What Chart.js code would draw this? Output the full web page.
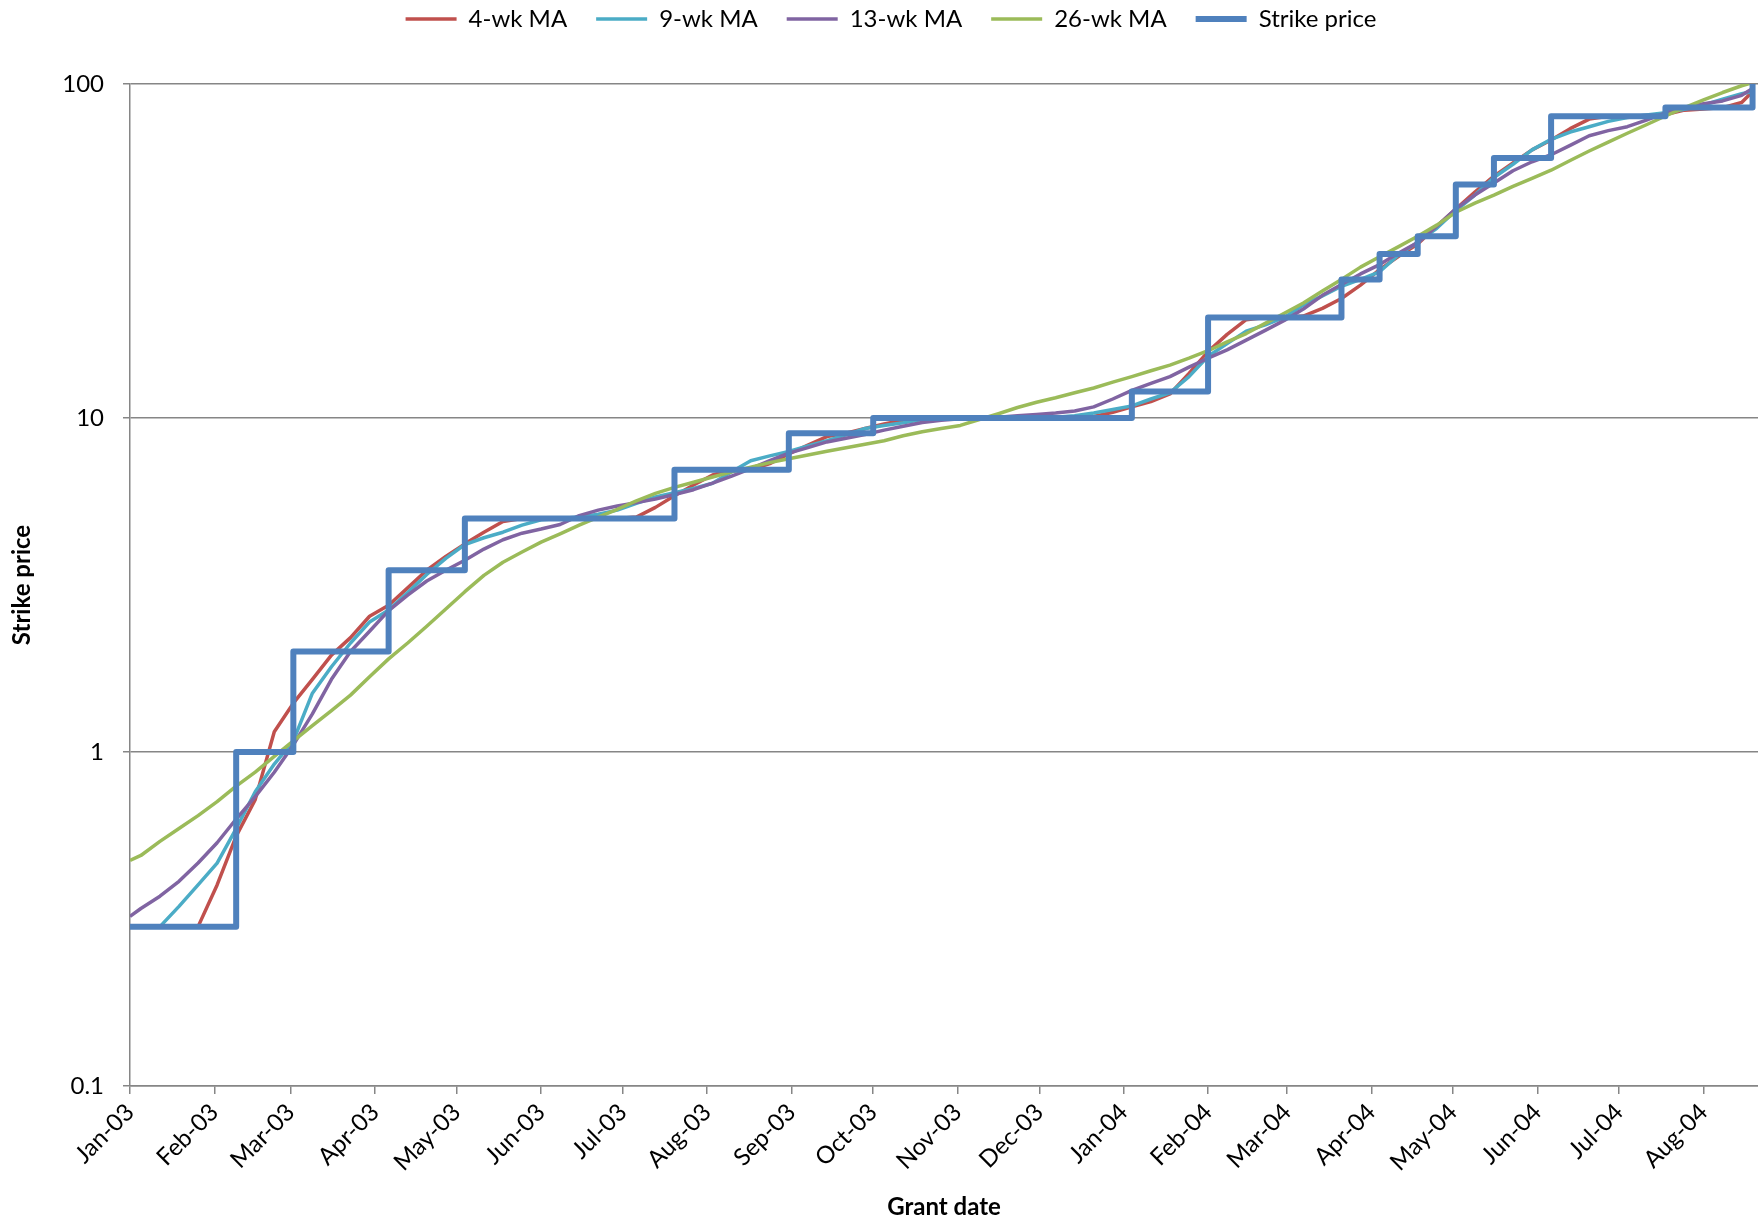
<!DOCTYPE html>
<html>
<head>
<meta charset="utf-8">
<title>Strike price and moving averages</title>
<script src="https://cdn.jsdelivr.net/npm/chart.js@4.4.1/dist/chart.umd.min.js"></script>
<style>
  html, body { margin: 0; padding: 0; background: #fff; }
  #wrap { width: 1758px; height: 1222px; }
</style>
</head>
<body>
<div id="wrap"><canvas id="chart" width="1758" height="1222"></canvas></div>
<script>
// Sample dates: start of period, every Sunday from 5 Jan 2003, last grant
var weeks = ['2003-01-01'];
for (var t = Date.UTC(2003, 0, 5); t <= Date.UTC(2004, 7, 15); t += 7 * 864e5) {
  weeks.push(new Date(t).toISOString().slice(0, 10));
}
weeks.push('2004-08-19');

var ma4 = [
  0.3, 0.3, 0.3, 0.3, 0.3, 0.4, 0.56, 0.72, 1.15, 1.4,
  1.65, 1.95, 2.2, 2.55, 2.75, 3.1, 3.5, 3.85, 4.2, 4.55,
  4.9, 5.0, 5.0, 5.0, 5.0, 5.0, 5.0, 5.05, 5.4, 5.85,
  6.3, 6.75, 7.0, 7.0, 7.3, 7.8, 8.3, 8.8, 9.0, 9.3,
  9.6, 9.85, 10, 10, 10, 10, 10, 10, 10, 10,
  10, 10.1, 10.4, 10.8, 11.2, 11.8, 13.6, 15.8, 17.8, 19.7,
  20, 20, 20.2, 21.3, 22.8, 25, 27.8, 30.5, 33.2, 37.5,
  42.2, 47.5, 53, 58, 63.5, 68, 73.5, 78.5, 80, 80,
  80, 81, 83.5, 84.2, 85, 88, 95
];
var ma9 = [
  0.3, 0.3, 0.3, 0.345, 0.4, 0.465, 0.59, 0.76, 0.92, 1.08,
  1.5, 1.8, 2.12, 2.45, 2.66, 3.0, 3.4, 3.8, 4.18, 4.38,
  4.55, 4.78, 4.96, 5.0, 5.05, 5.15, 5.3, 5.55, 5.8, 5.98,
  6.15, 6.38, 6.9, 7.45, 7.7, 7.94, 8.25, 8.55, 8.9, 9.3,
  9.5, 9.68, 9.9, 10, 10, 10, 10, 10, 10, 10.05,
  10.15, 10.35, 10.6, 10.87, 11.4, 11.9, 13.3, 15.3, 16.7, 18.2,
  19.0, 20.0, 21.8, 23.2, 24.8, 26.0, 27.4, 30.8, 33.6, 37,
  41.8, 46.5, 52.5, 57.5, 63.5, 68.3, 71.8, 74.5, 77.3, 79.4,
  80.8, 82, 84, 86.5, 90, 93.5, 95
];
var ma13 = [
  0.322, 0.34, 0.37, 0.41, 0.465, 0.535, 0.63, 0.735, 0.87, 1.05,
  1.3, 1.65, 2.0, 2.3, 2.65, 2.95, 3.25, 3.5, 3.75, 4.05,
  4.32, 4.52, 4.65, 4.8, 5.1, 5.3, 5.45, 5.58, 5.72, 5.9,
  6.1, 6.38, 6.7, 7.05, 7.45, 7.85, 8.15, 8.48, 8.7, 8.92,
  9.2, 9.45, 9.7, 9.85, 9.95, 10.0, 10.05, 10.15, 10.25, 10.35,
  10.5, 10.8, 11.4, 12.1, 12.7, 13.3, 14.2, 15.1, 16.0, 17.1,
  18.3, 19.6, 21.2, 23.3, 25.1, 27.0, 28.8, 31.2, 33.5, 37.5,
  42.3, 46.5, 50.5, 55.0, 58.5, 61.4, 65.5, 70, 72.5, 74.5,
  78, 82, 85, 87.3, 89, 92.5, 97
];
var ma26 = [
  0.474, 0.49, 0.54, 0.59, 0.645, 0.71, 0.79, 0.87, 0.97, 1.08,
  1.2, 1.33, 1.48, 1.68, 1.9, 2.12, 2.38, 2.68, 3.02, 3.38,
  3.7, 3.97, 4.25, 4.5, 4.78, 5.05, 5.33, 5.65, 5.95, 6.2,
  6.42, 6.66, 6.9, 7.12, 7.35, 7.55, 7.75, 7.95, 8.15, 8.35,
  8.55, 8.85, 9.1, 9.3, 9.5, 9.9, 10.3, 10.75, 11.15, 11.5,
  11.9, 12.3, 12.8, 13.3, 13.85, 14.4, 15.1, 15.9, 16.9, 17.9,
  19.2, 20.6, 22.1, 24.0, 26.0, 28.3, 30.4, 32.6, 35.0, 37.8,
  41.3, 44, 46.5, 49.4, 52.2, 55.2, 59.0, 63.0, 67.0, 71.2,
  75.5, 80.2, 85.0, 89.6, 94.3, 98.8, 101
];

// Grant dates where the strike price changes, and the new price
var strikeDates = [
  '2003-01-01', '2003-02-09', '2003-03-02', '2003-04-06', '2003-05-04',
  '2003-07-20', '2003-08-31', '2003-10-01', '2004-01-04', '2004-02-01',
  '2004-03-21', '2004-04-04', '2004-04-18', '2004-05-02', '2004-05-16',
  '2004-06-06', '2004-07-18', '2004-08-19'
];
var strikePrices = [0.3, 1, 2, 3.5, 5, 7, 9, 10, 12, 20, 26, 31, 35, 50, 60, 80, 85, 100];

var priceTicks = [0.1, 1, 10, 100];
var MONTHS = ['Jan', 'Feb', 'Mar', 'Apr', 'May', 'Jun', 'Jul', 'Aug', 'Sep', 'Oct', 'Nov', 'Dec'];
var axisEnd = '2004-08-21';

var DAY0 = Date.UTC(2003, 0, 1);
function dayNum(iso) {
  var p = iso.split('-');
  return (Date.UTC(+p[0], +p[1] - 1, +p[2]) - DAY0) / 864e5;
}

// first of each month, Jan-03 .. Aug-04
var monthTicks = [];
var monthLabels = [];
for (var y = 2003, m = 0; y < 2004 || m <= 7; m++) {
  if (m > 11) { m = 0; y++; }
  monthTicks.push(dayNum(y + '-' + (m + 1) + '-1'));
  monthLabels.push(MONTHS[m] + '-' + String(y).slice(2));
}

function series(values) {
  return values.map(function (v, i) { return { x: dayNum(weeks[i]), y: v }; });
}

var FONT = 'Lato, "Open Sans", sans-serif';
var GRID = '#868686';

function maLine(label, color, values, order) {
  return {
    label: label,
    data: series(values),
    borderColor: color,
    backgroundColor: color,
    borderWidth: 3.5,
    borderJoinStyle: 'round',
    pointRadius: 0,
    tension: 0,
    order: order
  };
}

// legend gets a fixed band at the top, drawn a bit higher inside it
var legendBand = {
  id: 'legendBand',
  beforeInit: function (chart) {
    var fit = chart.legend.fit;
    chart.legend.fit = function () {
      fit.call(this);
      this.height = 84;
    };
  },
  afterLayout: function (chart) {
    chart.legend.top = -22;
    chart.legend.left += 12;
    chart.legend.right += 12;
  }
};

new Chart(document.getElementById('chart'), {
  type: 'line',
  data: {
    datasets: [
      maLine('4-wk MA', '#C0504D', ma4, 4),
      maLine('9-wk MA', '#4BACC6', ma9, 3),
      maLine('13-wk MA', '#8064A2', ma13, 2),
      maLine('26-wk MA', '#9BBB59', ma26, 1),
      {
        label: 'Strike price',
        data: strikePrices.map(function (v, i) { return { x: dayNum(strikeDates[i]), y: v }; }),
        borderColor: '#4F81BD',
        backgroundColor: '#4F81BD',
        borderWidth: 6,
        borderJoinStyle: 'round',
        stepped: true,
        pointRadius: 0,
        order: 0
      }
    ]
  },
  options: {
    responsive: false,
    animation: false,
    events: [],
    layout: { padding: 0 },
    plugins: {
      legend: {
        position: 'top',
        labels: {
          usePointStyle: true,
          pointStyle: 'line',
          pointStyleWidth: 51,
          padding: 29,
          color: '#000',
          font: { family: FONT, size: 24 },
          sort: function (a, b) { return a.datasetIndex - b.datasetIndex; }
        }
      },
      tooltip: { enabled: false }
    },
    scales: {
      x: {
        type: 'linear',
        min: 0,
        max: dayNum(axisEnd),
        afterBuildTicks: function (scale) {
          scale.ticks = monthTicks.map(function (d) { return { value: d }; });
        },
        afterFit: function (scale) { scale.height = 136; },
        ticks: {
          autoSkip: false,
          minRotation: 45,
          maxRotation: 45,
          padding: 4,
          color: '#000',
          font: { family: FONT, size: 24 },
          callback: function (value, index) { return monthLabels[index]; }
        },
        grid: { drawOnChartArea: false, drawTicks: true, tickLength: 8, color: GRID, lineWidth: 1.5 },
        border: { color: GRID, width: 1.5 },
        title: {
          display: true,
          text: 'Grant date',
          color: '#000',
          font: { family: FONT, size: 24, weight: 'bold' },
          padding: { top: 0, bottom: 0 }
        }
      },
      y: {
        type: 'logarithmic',
        min: 0.1,
        max: 100,
        afterBuildTicks: function (scale) {
          scale.ticks = priceTicks.map(function (v) { return { value: v }; });
        },
        afterFit: function (scale) { scale.width = 130; },
        ticks: {
          padding: 19,
          color: '#000',
          font: { family: FONT, size: 24 },
          callback: function (value) { return String(value); }
        },
        grid: { color: GRID, lineWidth: 1.5, tickLength: 7 },
        border: { color: GRID, width: 1.5 },
        title: {
          display: true,
          text: 'Strike price',
          color: '#000',
          font: { family: FONT, size: 24, weight: 'bold' },
          padding: { top: 8, bottom: 0 }
        }
      }
    }
  },
  plugins: [legendBand]
});
</script>
</body>
</html>
